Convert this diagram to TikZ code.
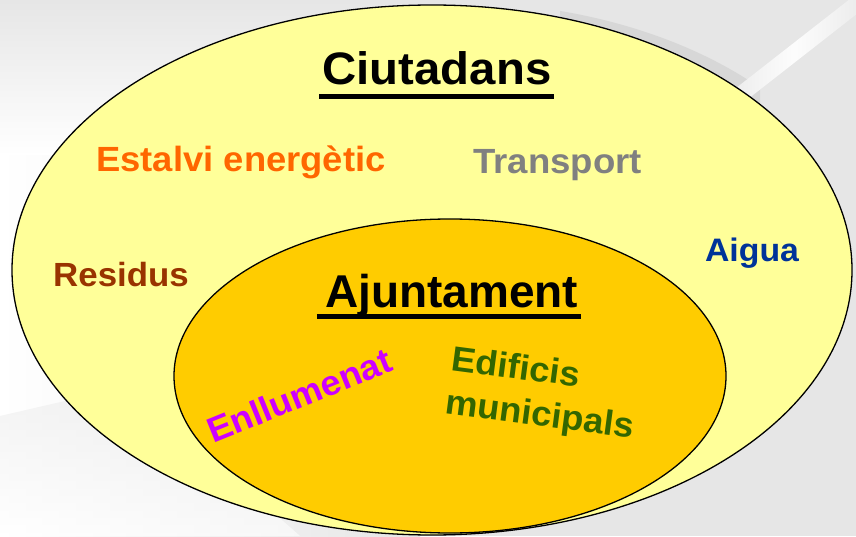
\documentclass[tikz,border=0pt]{standalone}
\usepackage{fontspec}
\setmainfont{Liberation Sans}
\usepackage{graphicx}
\usetikzlibrary{shapes.geometric}
\definecolor{outerfill}{HTML}{FFFF99}
\definecolor{innerfill}{HTML}{FFCC00}
\definecolor{cOrange}{HTML}{FF6600}
\definecolor{cGray}{HTML}{808080}
\definecolor{cBrown}{HTML}{993300}
\definecolor{cBlue}{HTML}{003399}
\definecolor{cMagenta}{HTML}{CC00FF}
\definecolor{cGreen}{HTML}{336600}
\definecolor{bgGray}{HTML}{E6E6E6}
\definecolor{shadowGray}{HTML}{D4D4D4}
\tikzset{
  lbl/.style={anchor=base, inner sep=0pt},
  setbox/.style={draw=black, line width=1.3pt},
  uline/.style={line width=5pt, black},
}
\newcommand{\txt}[3]{\scalebox{#2}[1]{\fontsize{#1}{#1}\selectfont\bfseries #3}}
\begin{document}
\begin{tikzpicture}[x=1pt,y=1pt]
\useasboundingbox (0,0) rectangle (856,536);
% background
\fill[bgGray] (0,0) rectangle (856,536);
\shade[top color=bgGray, bottom color=white] (0,536) rectangle (420,380);
\shade[left color=white, right color=bgGray] (0,0) rectangle (420,380);
\shade[top color=gray!16, bottom color=white, opacity=0.6] (0,120) -- (130,150) -- (300,0) -- (0,0) -- cycle;
\begin{scope}
\clip (560,536) rectangle (760,430);
\fill[shadowGray, opacity=0.8] (452,272) ellipse [x radius=416, y radius=262];
\end{scope}
\shade[left color=bgGray, right color=bgGray, middle color=white!90!bgGray, rotate around={38:(790,480)}] (690,472) rectangle (900,488);
% sets
\node[setbox, fill=outerfill, ellipse, minimum width=840pt, minimum height=530pt, inner sep=0pt] (ciut) at (432,266) {};
\node[setbox, fill=innerfill, ellipse, minimum width=552pt, minimum height=314pt, inner sep=0pt] (ajun) at (450,160) {};
% titles
\node[lbl] (tciut) at (437,451) {\txt{45.5}{1.04}{Ciutadans}};
\draw[uline] ([xshift=-3pt,yshift=-11.5pt]tciut.base west) -- ([xshift=2pt,yshift=-11.5pt]tciut.base east);
\node[lbl] (tajun) at (451.5,229) {\txt{46}{1.0}{Ajuntament}};
\draw[uline] ([xshift=-8pt,yshift=-9.5pt]tajun.base west) -- ([xshift=3pt,yshift=-9.5pt]tajun.base east);
% labels
\node[lbl, text=cOrange] (est) at (241,364) {\txt{35}{1.04}{Estalvi energètic}};
\node[lbl, text=cGray] (tra) at (557.5,362) {\txt{35}{1.045}{Transport}};
\node[lbl, text=cBrown] (res) at (121,249) {\txt{33.5}{1.04}{Residus}};
\node[lbl, text=cBlue] (aig) at (752,274) {\txt{32.5}{1.04}{Aigua}};
\node[lbl, text=cMagenta, rotate=22] (enl) at (304,129) {\txt{35}{1.04}{Enllumenat}};
\node[anchor=base west, inner sep=0pt, text=cGreen, rotate=-7.5] (edi) at (450,166)
  {\scalebox{1.04}[1]{\fontsize{35}{44}\selectfont\bfseries\begin{tabular}[t]{@{}l@{}}Edificis\\ municipals\end{tabular}}};
\end{tikzpicture}
\end{document}
